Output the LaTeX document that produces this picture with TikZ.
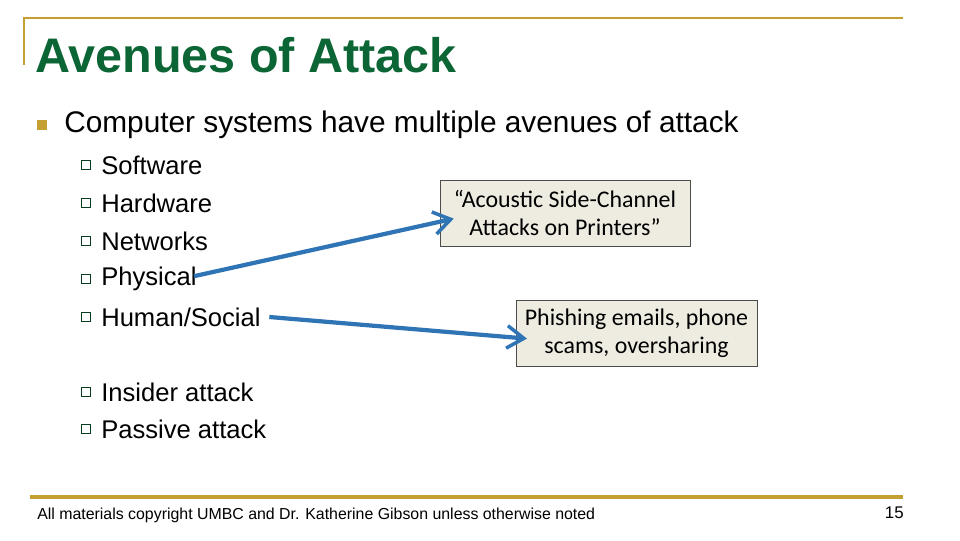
\documentclass[tikz,border=0pt]{standalone}
\usepackage{fontspec}
\setmainfont{Liberation Sans}
\newfontfamily\boxfont{Carlito}
\usetikzlibrary{arrows.meta, positioning}
\definecolor{umbcgreen}{HTML}{0B6534}
\definecolor{umbcgold}{HTML}{C4A032}
\definecolor{boxfill}{HTML}{EEECE1}
\definecolor{arrowblue}{HTML}{2F74B5}
\tikzstyle{item} = [anchor=west, inner sep=0pt, font=\fontsize{18.2}{18.2}\selectfont]
\tikzstyle{box} = [rectangle, draw=black!70, fill=boxfill, align=center, text centered, font=\boxfont\fontsize{17}{20}\selectfont, inner sep=4pt]
\tikzstyle{arrow} = [-{Straight Barb[length=12pt, width=16pt, line width=2.5pt]}, line width=3pt, draw=arrowblue]
\tikzstyle{sq} = [rectangle, draw=umbcgreen!60!black, fill=white, minimum size=6pt, inner sep=0pt, line width=0.5pt]

\begin{document}
\begin{tikzpicture}[x=0.025cm, y=-0.025cm]

    \useasboundingbox (0, 0) rectangle (960, 540);

    \draw [umbcgold, line width=2pt] (24, 65) -- (24, 18) -- (903, 18);
    \draw [umbcgold, line width=2.5pt] (30, 497) -- (903, 497);

    \node (title) [anchor=west, inner sep=0pt, text=umbcgreen, font=\bfseries\fontsize{34.5}{34.5}\selectfont] at (35, 55) {Avenues of Attack};

    \node (main) [rectangle, fill=umbcgold, minimum size=7pt, inner sep=0pt] at (42, 125) {};
    \node (topic) [item, font=\fontsize{21.2}{21.2}\selectfont] at (64, 125) {Computer systems have multiple avenues of attack};

    \foreach \y/\name/\txt in {165/soft/Software, 203/hard/Hardware, 241/net/Networks, 279/phys/Physical, 317/human/{Human/Social}, 392/insider/Insider attack, 429/passive/Passive attack} {
        \node [sq] at (86, \y) {};
        \node (\name) [item] at (101, \y) {\txt};
    }

    \node (acoustic) [box, minimum width=250*0.025cm, minimum height=66*0.025cm] at (565, 213) {“Acoustic Side-Channel\\Attacks on Printers”};
    \node (phishing) [box, minimum width=241*0.025cm, minimum height=66*0.025cm] at (636.5, 333) {Phishing emails, phone\\scams, oversharing};

    \draw [arrow] ([xshift=-2pt, yshift=2pt]phys.east) -- ([xshift=10pt, yshift=-4pt]acoustic.west);
    \draw [arrow] ([xshift=6pt]human.east) -- ([xshift=8pt, yshift=-4pt]phishing.west);

    \node (footer) [anchor=west, inner sep=0pt, font=\fontsize{11.3}{11.3}\selectfont] at (37, 515) {All materials copyright UMBC and Dr. Katherine Gibson unless otherwise noted};
    \node (page) [anchor=east, inner sep=0pt, font=\fontsize{12}{12}\selectfont] at (904, 513) {15};

\end{tikzpicture}
\end{document}
